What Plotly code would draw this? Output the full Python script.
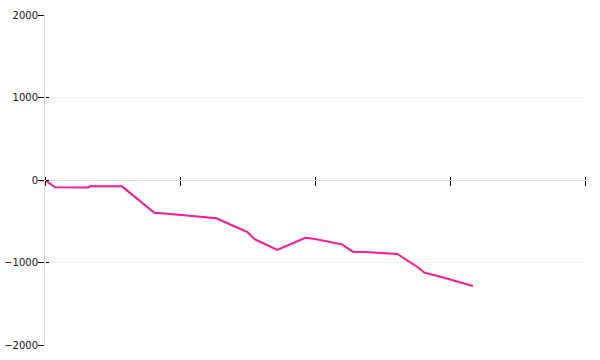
import plotly.graph_objects as go

# Data (x in arbitrary units, axis spans 0..40)
x_vals = [0, 0.75, 3.2, 3.3, 5.7, 8.1, 9.3, 10.2, 11.7, 12.7, 13.6, 15.0, 15.5,
          17.2, 19.3, 20.0, 22.0, 22.8, 23.7, 25.3, 26.1, 27.7, 28.1, 29.3, 31.7]
y_vals = [0, -88, -90, -77, -77, -396, -412, -424, -442, -464, -530, -630, -715,
          -848, -700, -715, -780, -869, -872, -885, -897, -1067, -1123, -1172, -1285]
x_ticks = [0, 10, 20, 30, 40]
y_ticks = [-2000, -1000, 0, 1000, 2000]

fig = go.Figure()
fig.add_trace(go.Scatter(x=x_vals, y=y_vals, mode="lines",
                         line=dict(color="#FF1493", width=2), showlegend=False,
                         hoverinfo="skip"))
# invisible trace to activate secondary axes
fig.add_trace(go.Scatter(x=[0], y=[0], xaxis="x2", yaxis="y2", mode="markers",
                         marker=dict(opacity=0), showlegend=False, hoverinfo="skip"))

font = dict(family="DejaVu Sans", size=10, color="#111")

fig.update_layout(
    width=600, height=360,
    margin=dict(l=45, r=15, t=15, b=15, pad=0),
    paper_bgcolor="white", plot_bgcolor="white",
    font=font,
    xaxis=dict(range=[0, 40], tickvals=x_ticks, showticklabels=False,
               showgrid=False, zeroline=False, showline=True, linecolor="#dddddd",
               linewidth=1, ticks="outside", ticklen=5, tickcolor="black",
               tickwidth=1, anchor="free", position=0.5, automargin=False),
    xaxis2=dict(range=[0, 40], tickvals=x_ticks, showticklabels=False,
                showgrid=False, zeroline=False, showline=False,
                ticks="outside", ticklen=3, tickcolor="black", tickwidth=1,
                overlaying="x", side="top", anchor="free", position=0.5,
                automargin=False),
    yaxis=dict(range=[-2000, 2000], tickvals=y_ticks, showgrid=True,
               gridcolor="#e6e6e6", griddash="2px,2px", gridwidth=1,
               zeroline=False, showline=True, linecolor="#dddddd", linewidth=1,
               ticks="outside", ticklen=6, tickcolor="black", tickwidth=1,
               tickfont=font, ticklabelstandoff=-2, automargin=False),
    yaxis2=dict(range=[-2000, 2000], tickvals=y_ticks, showgrid=False,
                zeroline=False, showline=False, showticklabels=False,
                ticks="inside", ticklen=3, tickcolor="black", tickwidth=1,
                overlaying="y", side="left", anchor="free", position=0,
                automargin=False),
)

fig.write_html("out.html")
